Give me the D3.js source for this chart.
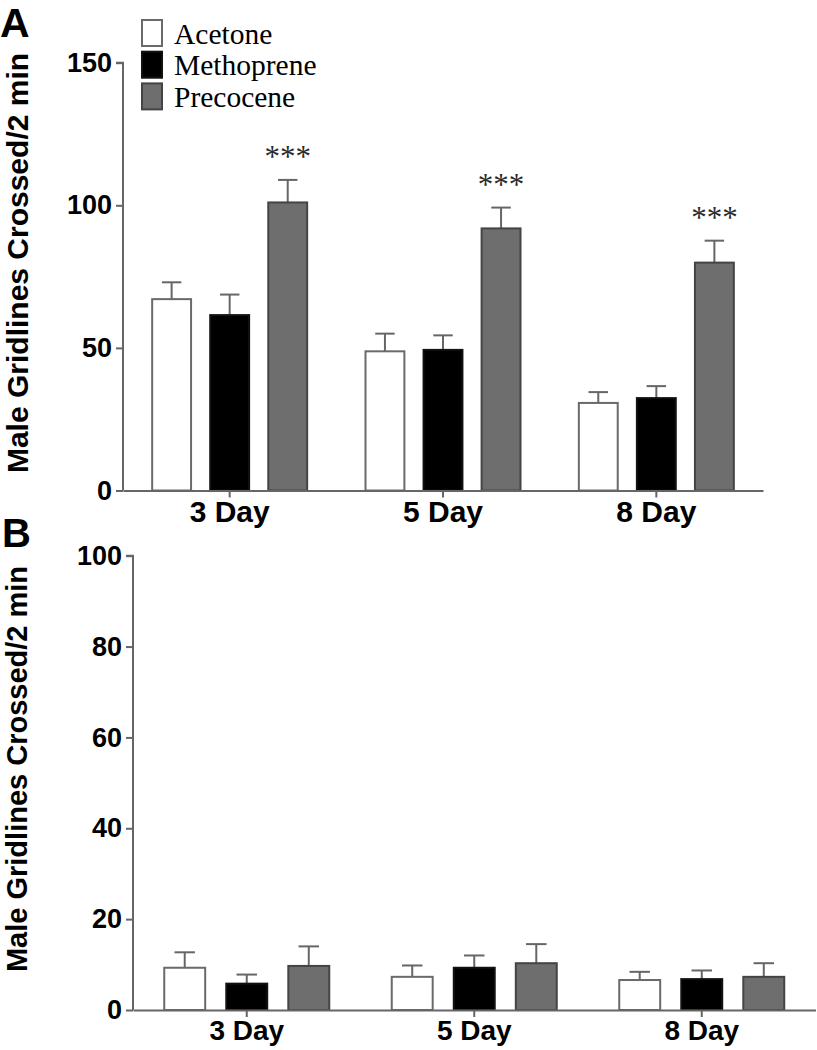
<!DOCTYPE html>
<html>
<head>
<meta charset="utf-8">
<script src="https://cdn.jsdelivr.net/npm/d3@7"></script>
<style>
  html, body { margin: 0; padding: 0; background: #fff; }
  svg { display: block; }
</style>
</head>
<body>
<script>
// ---------- data ----------
const categories = ["3 Day", "5 Day", "8 Day"];
const series = ["Acetone", "Methoprene", "Precocene"];

// Panel A (means and SEM)
const aAcetone = [67.1, 48.8, 30.7];
const aMethoprene = [61.5, 49.3, 32.4];
const aPrecocene = [101.0, 91.9, 79.9];
const aAcetoneSem = [5.9, 6.2, 3.8];
const aMethopreneSem = [7.2, 5.1, 4.2];
const aPrecoceneSem = [7.9, 7.3, 7.7];
const aSignif = ["***", "***", "***"]; // precocene significance per category
const aTicks = [0, 50, 100, 150];

// Panel B (means and SEM)
const bAcetone = [9.3, 7.3, 6.6];
const bMethoprene = [5.8, 9.3, 6.8];
const bPrecocene = [9.7, 10.3, 7.3];
const bAcetoneSem = [3.4, 2.5, 1.8];
const bMethopreneSem = [2.0, 2.7, 1.9];
const bPrecoceneSem = [4.3, 4.2, 3.0];
const bTicks = [0, 20, 40, 60, 80, 100];

const yTitle = "Male Gridlines Crossed/2 min";

// ---------- styles ----------
const fills = { Acetone: "#ffffff", Methoprene: "#000000", Precocene: "#6e6e6e" };
const strokes = { Acetone: "#6a6a6a", Methoprene: "#111111", Precocene: "#444444" };
const axisColor = "#666666";
const errColor = "#666666";
const sansBold = "'Liberation Sans', Arial, Helvetica, sans-serif";
const serif = "'Liberation Serif', 'Times New Roman', serif";

const svg = d3.select("body").append("svg")
  .attr("width", 817).attr("height", 1050);

function buildRows(means, sems) {
  return categories.map((c, i) => series.map((s, j) => ({
    cat: c, ser: s, mean: means[j][i], sem: sems[j][i], idx: i
  })));
}

function drawPanel(cfg) {
  const g = svg.append("g");
  const y = d3.scaleLinear().domain(cfg.yDomain).range(cfg.yRange);
  const x0 = d3.scaleBand().domain(categories).range(cfg.xRange).padding(0);
  const x1 = d3.scaleBand().domain(series)
    .range([-cfg.groupW / 2, cfg.groupW / 2]).paddingInner(cfg.innerPad);
  const rows = buildRows(cfg.means, cfg.sems);

  const groups = g.selectAll("g.grp").data(rows).join("g")
    .attr("transform", d => `translate(${x0(d[0].cat) + x0.bandwidth() / 2},0)`);

  // error bars (upward only)
  groups.selectAll("g.err").data(d => d).join("g").each(function (d) {
    const cx = x1(d.ser) + x1.bandwidth() / 2;
    const e = d3.select(this);
    const capW = x1.bandwidth() * 0.5;
    e.append("line").attr("x1", cx).attr("x2", cx)
      .attr("y1", y(d.mean)).attr("y2", y(d.mean + d.sem))
      .attr("stroke", errColor).attr("stroke-width", 2);
    e.append("line").attr("x1", cx - capW / 2).attr("x2", cx + capW / 2)
      .attr("y1", y(d.mean + d.sem)).attr("y2", y(d.mean + d.sem))
      .attr("stroke", errColor).attr("stroke-width", 2);
  });

  groups.selectAll("rect").data(d => d).join("rect")
    .attr("x", d => x1(d.ser))
    .attr("width", x1.bandwidth())
    .attr("y", d => y(d.mean))
    .attr("height", d => y(0) - y(d.mean))
    .attr("fill", d => fills[d.ser])
    .attr("stroke", d => strokes[d.ser])
    .attr("stroke-width", 2);

  // significance markers
  if (cfg.signif) {
    groups.each(function (d) {
      const p = d[2];
      const cx = x1(p.ser) + x1.bandwidth() / 2;
      d3.select(this).append("text")
        .attr("x", cx).attr("y", y(p.mean + p.sem) - 13)
        .attr("text-anchor", "middle")
        .attr("font-family", serif).attr("font-size", 31)
        .attr("fill", "#2a2a2a")
        .text(cfg.signif[p.idx]);
    });
  }

  // y axis
  const yAxis = d3.axisLeft(y).tickValues(cfg.ticks).tickSize(7).tickPadding(4)
    .tickFormat(d3.format("d"));
  const ya = g.append("g").attr("transform", `translate(${cfg.xRange[0]},0)`).call(yAxis);
  ya.select(".domain").attr("stroke", axisColor).attr("stroke-width", 2)
    .attr("d", `M-7,${y(cfg.yDomain[1])}H0V${y(0)}`);
  ya.selectAll(".tick line").attr("stroke", axisColor).attr("stroke-width", 2);
  ya.selectAll(".tick text").attr("font-family", sansBold).attr("font-weight", "bold")
    .attr("font-size", cfg.tickFont).attr("fill", "#000");

  // x axis
  const xAxis = d3.axisBottom(x0).tickSize(7).tickPadding(cfg.xPad).tickSizeOuter(0);
  const xa = g.append("g").attr("transform", `translate(0,${y(0)})`).call(xAxis);
  xa.select(".domain").attr("stroke", axisColor).attr("stroke-width", 2);
  xa.selectAll(".tick line").attr("stroke", axisColor).attr("stroke-width", 2);
  xa.selectAll(".tick text").attr("font-family", sansBold).attr("font-weight", "bold")
    .attr("font-size", cfg.catFont).attr("fill", "#000");

  // y title
  g.append("text")
    .attr("transform", `translate(${cfg.titleX},${cfg.titleY}) rotate(-90)`)
    .attr("text-anchor", "middle")
    .attr("font-family", sansBold).attr("font-weight", "bold")
    .attr("font-size", cfg.titleFont).attr("fill", "#000")
    .text(yTitle);

  // panel letter
  g.append("text").attr("x", cfg.letterX).attr("y", cfg.letterY)
    .attr("font-family", sansBold).attr("font-weight", "bold")
    .attr("font-size", cfg.letterSize).attr("fill", "#000")
    .text(cfg.letter);
}

drawPanel({
  yDomain: [0, 150], yRange: [490.5, 62.7], xRange: [123, 763],
  groupW: 155, innerPad: 0.33,
  means: [aAcetone, aMethoprene, aPrecocene],
  sems: [aAcetoneSem, aMethopreneSem, aPrecoceneSem],
  signif: aSignif, ticks: aTicks,
  tickFont: 27, catFont: 30, xPad: 3,
  titleX: 28, titleY: 263, titleFont: 30,
  letter: "A", letterX: 0, letterY: 37, letterSize: 41
});

drawPanel({
  yDomain: [0, 100], yRange: [1010, 555.7], xRange: [133, 815.5],
  groupW: 165, innerPad: 0.34,
  means: [bAcetone, bMethoprene, bPrecocene],
  sems: [bAcetoneSem, bMethopreneSem, bPrecoceneSem],
  signif: null, ticks: bTicks,
  tickFont: 27, catFont: 28, xPad: 3,
  titleX: 27, titleY: 769, titleFont: 29,
  letter: "B", letterX: 2, letterY: 547, letterSize: 40
});

// legend
const legend = svg.append("g").attr("class", "legend");
series.forEach((s, i) => {
  const yTop = 20 + i * 31.7;
  legend.append("rect").attr("x", 142).attr("y", yTop).attr("width", 20).attr("height", 26)
    .attr("fill", fills[s]).attr("stroke", strokes[s]).attr("stroke-width", 2);
  legend.append("text").attr("x", 174).attr("y", yTop + 23.5)
    .attr("font-family", serif).attr("font-size", 29.5).attr("fill", "#000")
    .text(s);
});
</script>
</body>
</html>
